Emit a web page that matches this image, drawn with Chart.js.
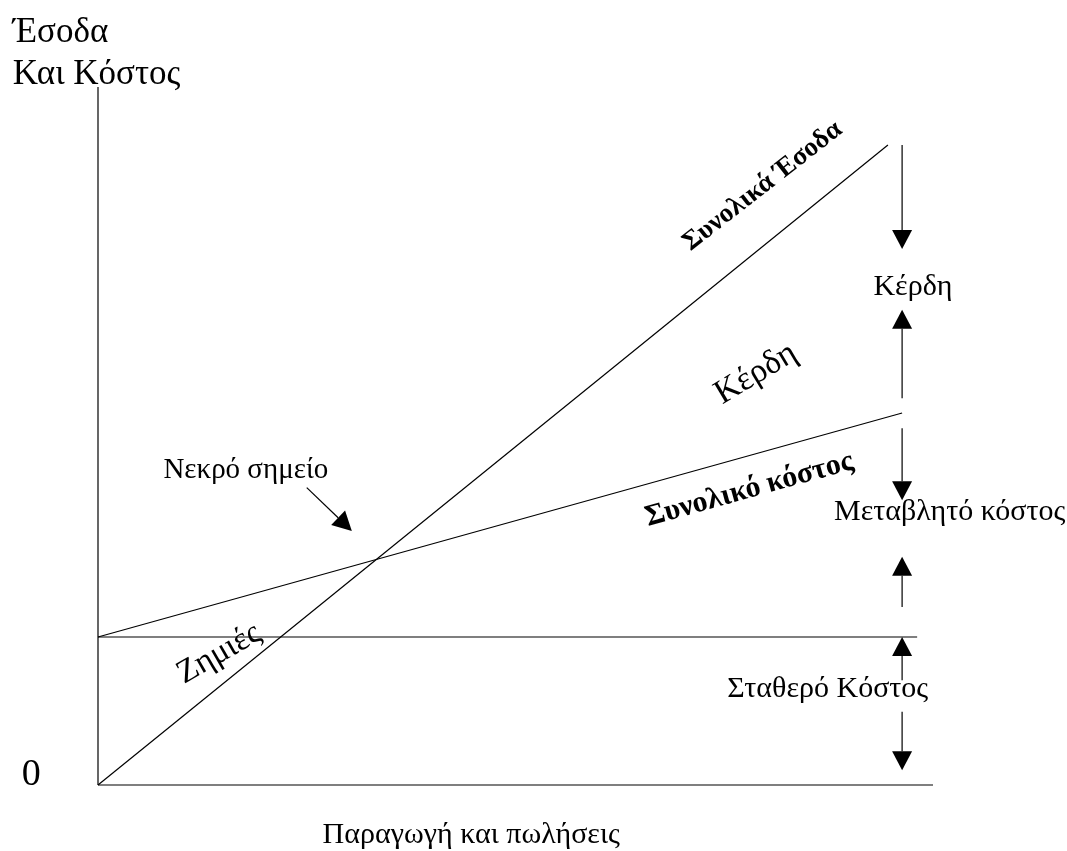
<!DOCTYPE html>
<html>
<head>
<meta charset="utf-8">
<script src="https://cdn.jsdelivr.net/npm/chart.js@4.4.1/dist/chart.umd.min.js"></script>
<style>
  html, body { margin: 0; padding: 0; background: #fff; }
  #wrap { width: 1067px; height: 851px; }
</style>
</head>
<body>
<div id="wrap"><canvas id="breakEven" width="1067" height="851"></canvas></div>
<script>
// Production/sales (x) vs revenue & cost (y), arbitrary units 0..100
const revenueX = [0, 94.6];
const revenueY = [0, 91.7];
const costX = [0, 96.3];
const costY = [21.2, 53.3];
const fixedX = [0, 98.1];
const fixedY = [21.2, 21.2];
const axisX = [0, 100];

// arrows: [xFrom, yFrom, xTo, yTo] (tip at "to")
const arrows = [
    [96.3, 91.7, 96.3, 76.8],
    [96.3, 55.4, 96.3, 68.1],
    [96.3, 51.1, 96.3, 40.8],
    [96.3, 25.5, 96.3, 32.7],
    [96.3, 15.0, 96.3, 21.2],
    [96.3, 10.5, 96.3, 2.1],
    [25.0, 42.6, 30.4, 36.4]
];

// text labels: [text, x, y, angle, font, align]
const labels = [
    ['Έσοδα', -10.2, 106.4, 0, '35px "Liberation Serif"', 'left'],
    ['Και Κόστος', -10.2, 100.4, 0, '35px "Liberation Serif"', 'left'],
    ['0', -8.0, 0.0, 0, '38px "Liberation Serif"', 'center'],
    ['Παραγωγή και πωλήσεις', 44.7, -8.3, 0, '30px "Liberation Serif"', 'center'],
    ['Νεκρό σημείο', 17.7, 44.0, 0, '29px "Liberation Serif"', 'center'],
    ['Κέρδη', 97.6, 70.2, 0, '30px "Liberation Serif"', 'center'],
    ['Μεταβλητό κόστος', 102.0, 38.0, 0, '30px "Liberation Serif"', 'center'],
    ['Σταθερό Κόστος', 87.4, 12.6, 0, '30px "Liberation Serif"', 'center'],
    ['Συνολικά Έσοδα', 79.6, 85.8, -38, 'bold 27px "Liberation Serif"', 'mid'],
    ['Κέρδη', 78.8, 58.9, -31, '34px "Liberation Serif"', 'mid'],
    ['Συνολικό κόστος', 78.0, 42.3, -15.5, 'bold 30px "Liberation Serif"', 'mid'],
    ['Ζημιές', 14.5, 18.8, -30, '33px "Liberation Serif"', 'mid']
];

function toPoints(xs, ys) {
    return xs.map(function(x, i) { return { x: x, y: ys[i] }; });
}

function lineSet(data) {
    return {
        data: data,
        borderColor: '#000',
        borderWidth: 1.2,
        pointRadius: 0,
        showLine: true,
        fill: false,
        clip: false
    };
}

// draws arrows and labels using the chart's scales
const annotate = {
    id: 'annotate',
    afterDatasetsDraw: function(chart) {
        const ctx = chart.ctx;
        const sx = chart.scales.x;
        const sy = chart.scales.y;
        ctx.save();
        ctx.strokeStyle = '#000';
        ctx.fillStyle = '#000';
        ctx.lineWidth = 1.2;

        arrows.forEach(function(a) {
            const x1 = sx.getPixelForValue(a[0]), y1 = sy.getPixelForValue(a[1]);
            const x2 = sx.getPixelForValue(a[2]), y2 = sy.getPixelForValue(a[3]);
            const ang = Math.atan2(y2 - y1, x2 - x1);
            const len = 19, half = 10;
            const bx = x2 - Math.cos(ang) * len, by = y2 - Math.sin(ang) * len;
            ctx.beginPath();
            ctx.moveTo(x1, y1);
            ctx.lineTo(bx, by);
            ctx.stroke();
            ctx.beginPath();
            ctx.moveTo(x2, y2);
            ctx.lineTo(bx + Math.sin(ang) * half, by - Math.cos(ang) * half);
            ctx.lineTo(bx - Math.sin(ang) * half, by + Math.cos(ang) * half);
            ctx.closePath();
            ctx.fill();
        });

        labels.forEach(function(l) {
            const px = sx.getPixelForValue(l[1]), py = sy.getPixelForValue(l[2]);
            ctx.save();
            ctx.translate(px, py);
            ctx.rotate(l[3] * Math.PI / 180);
            ctx.font = l[4];
            if (l[5] === 'mid') {
                ctx.textAlign = 'center';
                ctx.textBaseline = 'middle';
            } else {
                ctx.textAlign = l[5];
                ctx.textBaseline = 'alphabetic';
            }
            ctx.fillText(l[0], 0, 0);
            ctx.restore();
        });
        ctx.restore();
    }
};

document.addEventListener('DOMContentLoaded', function() {
    const ctx = document.getElementById('breakEven');
    new Chart(ctx, {
        type: 'scatter',
        data: {
            datasets: [
                lineSet(toPoints([0, 0], [0, 100])),   // y axis
                lineSet(toPoints(axisX, [0, 0])),      // x axis
                lineSet(toPoints(revenueX, revenueY)),
                lineSet(toPoints(costX, costY)),
                lineSet(toPoints(fixedX, fixedY))
            ]
        },
        options: {
            responsive: false,
            animation: false,
            events: [],
            layout: {
                padding: { left: 98, right: 134, top: 87, bottom: 66 }
            },
            plugins: {
                legend: { display: false },
                tooltip: { enabled: false }
            },
            scales: {
                x: { type: 'linear', min: 0, max: 100, display: false },
                y: { type: 'linear', min: 0, max: 100, display: false }
            }
        },
        plugins: [annotate]
    });
});
</script>
</body>
</html>
